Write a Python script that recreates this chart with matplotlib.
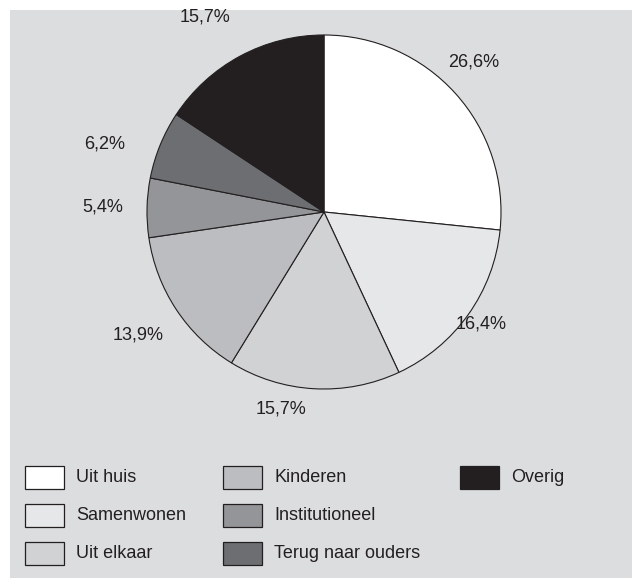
import matplotlib.pyplot as plt
import numpy as np
from matplotlib.patches import Rectangle

# data
categories = ['Uit huis', 'Samenwonen', 'Uit elkaar', 'Kinderen',
              'Institutioneel', 'Terug naar ouders', 'Overig']
values = [26.6, 16.4, 15.7, 13.9, 5.4, 6.2, 15.7]
value_labels = ['26,6%', '16,4%', '15,7%', '13,9%', '5,4%', '6,2%', '15,7%']
colors = ['#ffffff', '#e6e7e8', '#d1d2d4', '#bcbdc0', '#939598', '#6d6e71', '#231f20']

# label distance from centre (in radii) per slice, plus small angle shifts
label_dist = [1.20, 1.09, 1.14, 1.26, 1.25, 1.30, 1.29]
label_shift = [3, 0, -9, 0, 0, 5, 3]

plt.rcParams['font.family'] = ['Liberation Sans', 'DejaVu Sans']
FS = 13
W, H = 632, 578
fig = plt.figure(figsize=(W / 100, H / 100), dpi=100)
fig.patch.set_facecolor('white')

# grey panel
fig.add_artist(Rectangle((10 / W, 0), 1 - 10 / W, 1 - 10 / H, transform=fig.transFigure,
                         facecolor='#dcdddf', edgecolor='none', zorder=0))

# pie axes: centre (324, 212) px, radius 177 px
cx, cy, r = 324, 212, 177
ax = fig.add_axes([(cx - r) / W, (H - cy - r) / H, 2 * r / W, 2 * r / H])
ax.set_facecolor('none')
wedges, _ = ax.pie(values, colors=colors, startangle=90, counterclock=False,
                   wedgeprops=dict(edgecolor='#231f20', linewidth=0.8))
ax.set_xlim(-1, 1)
ax.set_ylim(-1, 1)
ax.set_aspect('equal')
ax.axis('off')

for w, lab, d, sh in zip(wedges, value_labels, label_dist, label_shift):
    ang = np.deg2rad((w.theta1 + w.theta2) / 2 + sh)
    ax.text(d * np.cos(ang), d * np.sin(ang), lab, ha='center', va='center',
            fontsize=FS, color='#231f20', clip_on=False)

# legend, drawn by hand in 3 columns
col_x = [25, 223, 460]
row_y = [477, 515, 553]
bw, bh = 39, 23
for i, (cat, col) in enumerate(zip(categories, colors)):
    c, rr = i // 3, i % 3
    x0 = col_x[c]
    y0 = row_y[rr]
    fig.add_artist(Rectangle((x0 / W, 1 - (y0 + bh / 2) / H), bw / W, bh / H,
                             transform=fig.transFigure, facecolor=col,
                             edgecolor='#231f20', linewidth=0.9))
    fig.text((x0 + bw + 12) / W, 1 - y0 / H, cat, ha='left', va='center',
             fontsize=FS, color='#231f20')

fig.savefig('out.png', dpi=100)
